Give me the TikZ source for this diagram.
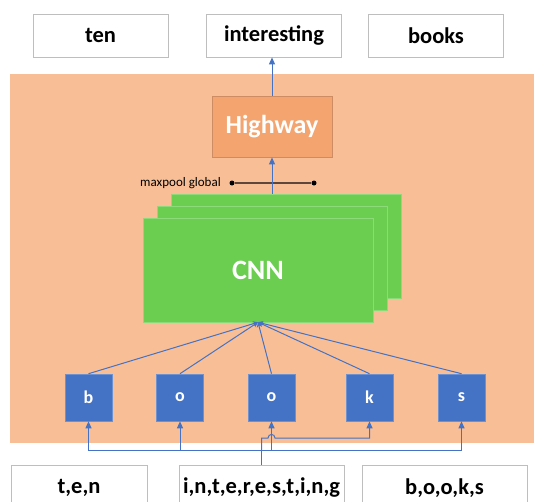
\documentclass[tikz,border=0pt]{standalone}
\usepackage{fontspec}
\setmainfont{Carlito}
\usetikzlibrary{arrows.meta}

\definecolor{panelbg}{RGB}{248,190,150}
\definecolor{hwfill}{RGB}{244,164,110}
\definecolor{hwline}{RGB}{205,140,100}
\definecolor{cnngreen}{RGB}{107,206,80}
\definecolor{cnnedge}{RGB}{140,218,120}
\definecolor{charblue}{RGB}{68,114,196}
\definecolor{charedge}{RGB}{110,145,210}
\definecolor{boxgray}{RGB}{190,190,190}
\definecolor{poolline}{RGB}{95,70,60}

\tikzset{
  wordbox/.style={draw=boxgray, fill=white, line width=0.8pt, minimum width=135pt,
    minimum height=43pt, inner sep=0pt, font=\fontsize{22.5}{26}\selectfont\bfseries},
  spellbox/.style={draw=boxgray, fill=white, line width=0.8pt, minimum height=45pt,
    inner sep=0pt, font=\fontsize{22.5}{26}\selectfont\bfseries},
  charbox/.style={draw=charedge, fill=charblue, line width=0.6pt, minimum width=47pt,
    minimum height=47pt, inner sep=0pt, text=white, font=\fontsize{18}{21}\selectfont\bfseries},
  cnnlayer/.style={draw=cnnedge, fill=cnngreen, line width=0.5pt, minimum width=230pt,
    minimum height=104pt, inner sep=0pt},
  hwbox/.style={draw=hwline, fill=hwfill, line width=0.8pt, minimum width=120pt,
    minimum height=61pt, inner sep=0pt, text=white, font=\fontsize{26}{30}\selectfont\bfseries},
  link/.style={draw=charblue, line width=1pt},
  uparrow/.style={link, -{Triangle[length=7pt,width=6pt]}},
  fanarrow/.style={link, -{Stealth[length=5pt,width=5pt]}},
  pooldot/.style={circle, fill=black, inner sep=0pt, minimum size=5pt},
}

\begin{document}
\begin{tikzpicture}[x=1pt, y=-1pt]
  \useasboundingbox (0,0) rectangle (534,501);
  \clip (0,0) rectangle (534,501);

  % background panel for the character-level encoder
  \fill[panelbg] (10,74) rectangle (534,443);

  % output words
  \node[wordbox] (ten)  at (100.5,35.5) {ten};
  \node[wordbox] (interesting) at (274,35.5) {interesting};
  \node[wordbox] (books) at (436,35.5) {books};

  % spelled-out inputs
  \node[spellbox, minimum width=136pt] (tenin) at (79,487.75) {t,e,n};
  \node[spellbox, minimum width=165pt] (intin) at (261.5,487.75) {i,n,t,e,r,e,s,t,i,n,g};
  \node[spellbox, minimum width=165pt] (booksin) at (444.5,487.75) {b,o,o,k,s};

  % stacked CNN filters
  \node[cnnlayer] (cnnback) at (286,246) {};
  \node[cnnlayer] (cnnmid)  at (272,258) {};
  \node[cnnlayer, text=white, font=\fontsize{28}{32}\selectfont\bfseries] (cnn) at (258,270) {CNN};

  % highway layer
  \node[hwbox] (hw) at (272,126.5) {Highway};

  % character embeddings
  \node[charbox] (cb)  at (88.5,397.5)  {b};
  \node[charbox] (co1) at (180,397.5)   {o};
  \node[charbox] (co2) at (271.5,397.5) {o};
  \node[charbox] (ck)  at (369.5,397.5) {k};
  \node[charbox] (cs)  at (461.5,397.5) {s};

  % global max-pooling marker
  \node[pooldot] (mpl) at (232,183) {};
  \node[pooldot] (mpr) at (314,183) {};
  \draw[poolline, line width=1.2pt] (mpl) -- (mpr);
  \node[anchor=east, inner sep=0pt, font=\fontsize{13}{15}\selectfont] (mptext) at (221,183) {maxpool global};

  % vertical flow through the encoder
  \draw[uparrow] (cnnback.north -| hw.south) -- (hw.south);
  \draw[uparrow] (hw.north) -- (hw.north |- interesting.south);

  % characters feed the convolution
  \foreach \c in {cb,co1,co2,ck,cs}
    \draw[fanarrow] (\c.north) -- (cnn.south);

  % characters looked up from the spelled word
  \coordinate (split) at (intin.north |- 0,450);
  \coordinate (lift)  at (intin.north |- 0,438);
  \draw[link] (intin.north) -- (split);
  \draw[uparrow] (split) -| (cb.south);
  \draw[uparrow] (split) -| (co1.south);
  \draw[uparrow] (split) -| (cs.south);
  \draw[uparrow] (split) -| (co2.south);
  % line hop where the route to "k" crosses the riser to the middle "o"
  \draw[uparrow] (split) -- (lift) -- ([xshift=-3.5pt]co2.south |- lift)
      .. controls +(0,-4.7) and +(0,-4.7) .. ([xshift=3.5pt]co2.south |- lift)
      -| (ck.south);
\end{tikzpicture}
\end{document}
